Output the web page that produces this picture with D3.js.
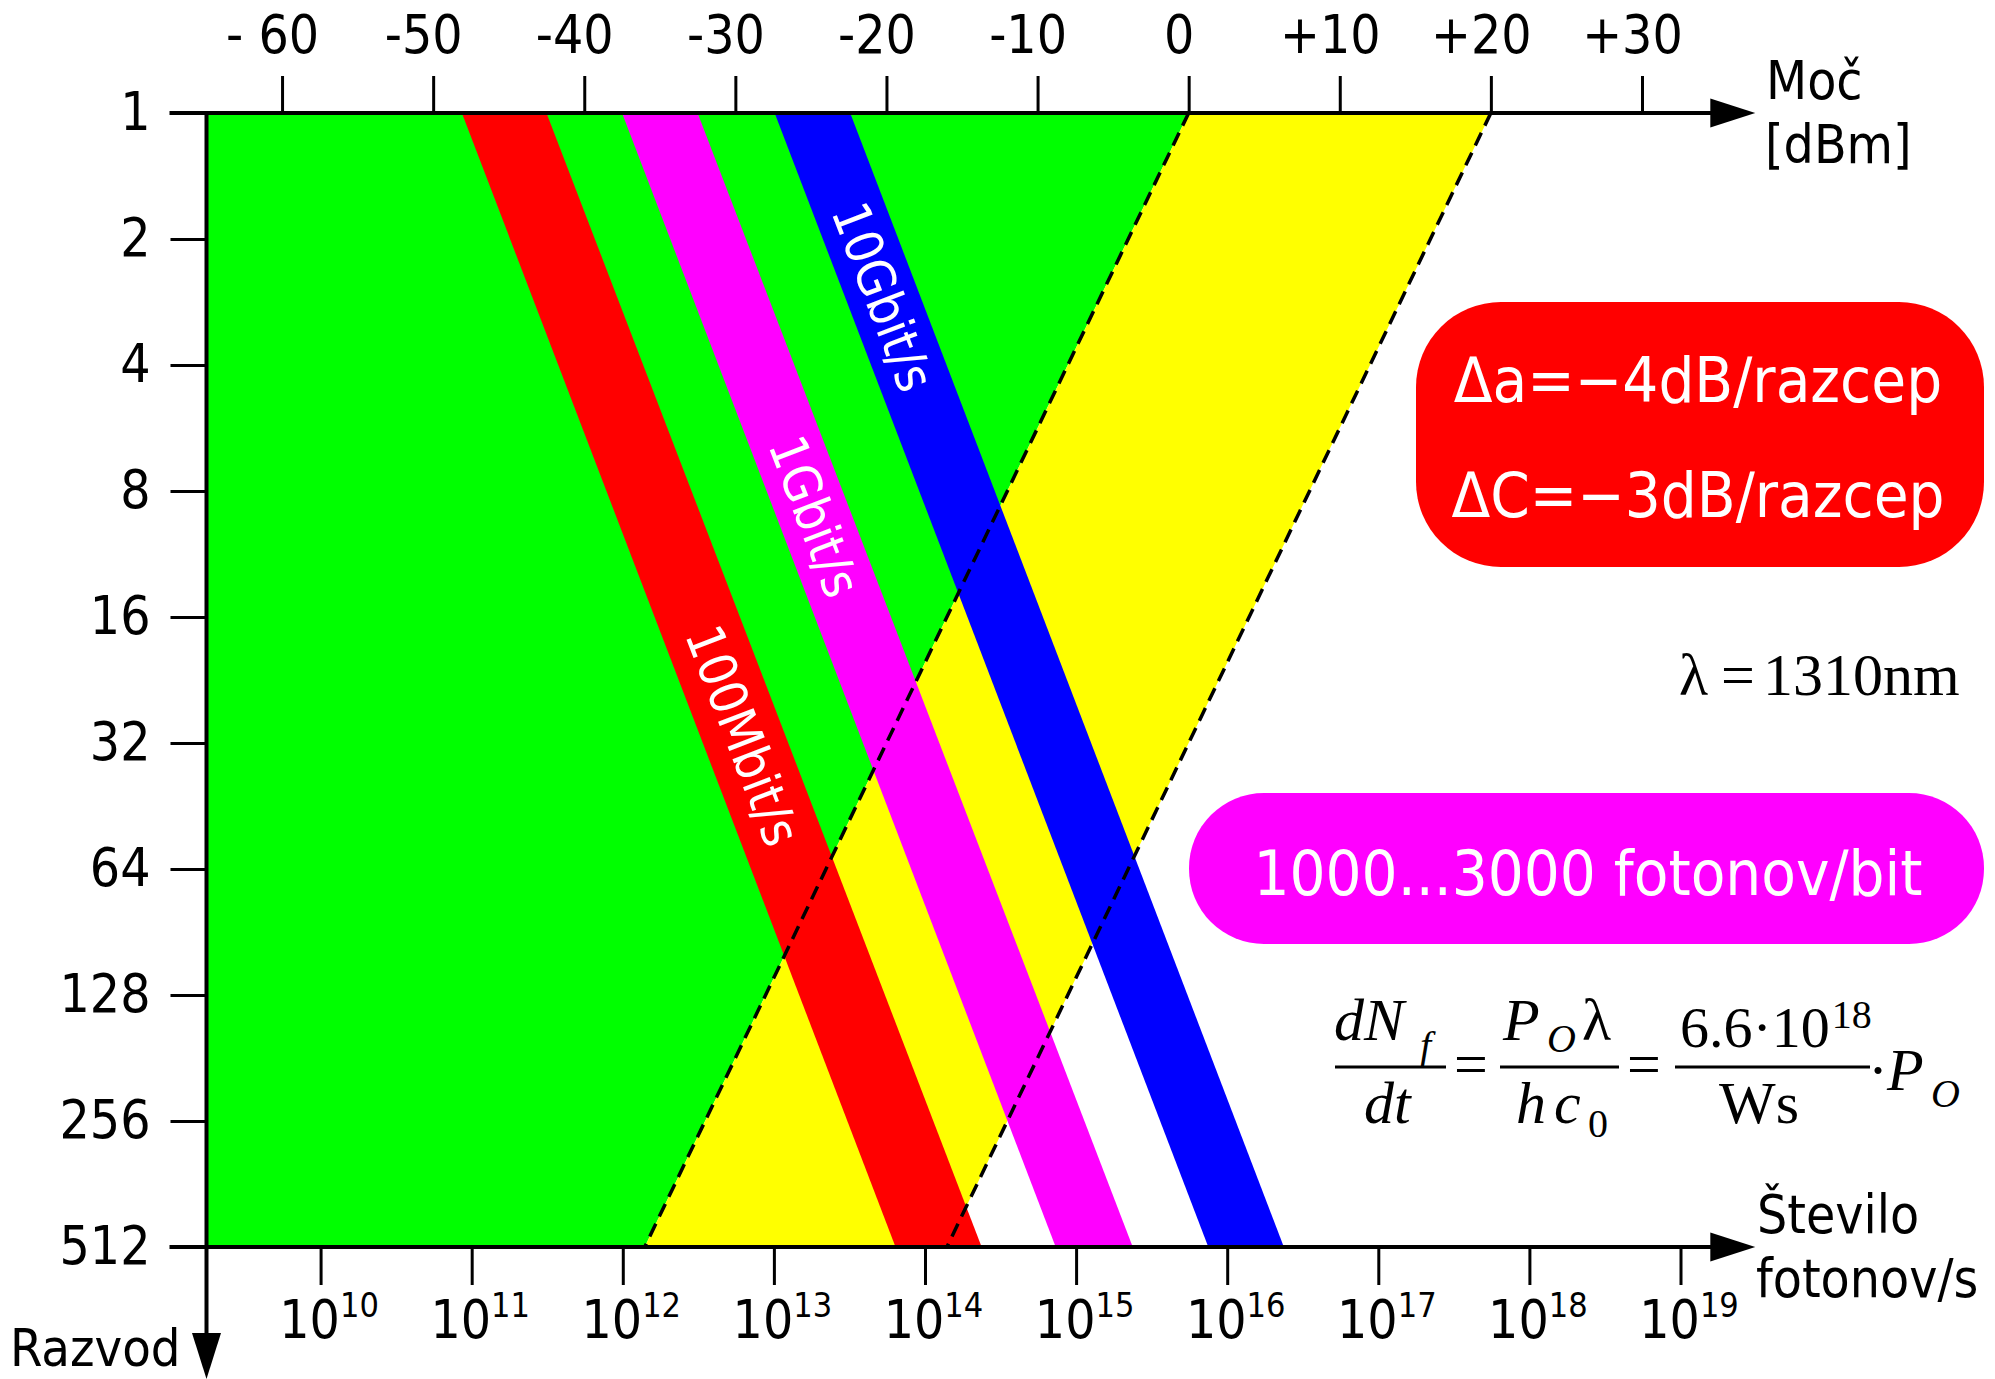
<!DOCTYPE html>
<html>
<head>
<meta charset="utf-8">
<script src="https://cdn.jsdelivr.net/npm/d3@7"></script>
<style>
  html, body { margin: 0; padding: 0; background: #fff; }
  svg { display: block; }
  .sans { font-family: "DejaVu Sans Condensed", "DejaVu Sans", sans-serif; font-stretch: condensed; }
  .serif { font-family: "Liberation Serif", "DejaVu Serif", serif; }
</style>
</head>
<body>
<svg id="chart" width="1995" height="1379"></svg>
<script>
// Received optical power axis (dBm) and its labels
const powerTicks = [-60, -50, -40, -30, -20, -10, 0, 10, 20, 30];
const powerTickLabels = ["- 60", "-50", "-40", "-30", "-20", "-10", "0", "+10", "+20", "+30"];

// Split ratio axis (number of splits, log2)
const splits = [1, 2, 4, 8, 16, 32, 64, 128, 256, 512];

// Photon-rate axis: decades 10^10 ... 10^19 photons per second
const photonExponents = [10, 11, 12, 13, 14, 15, 16, 17, 18, 19];

// Receiver sensitivity bands (1000...3000 photons/bit) per bit rate, in dBm,
// at a single split and at 512 splits
const rateNames = ["100Mbit/s", "1Gbit/s", "10Gbit/s"];
const rateColors = ["#ff0000", "#ff00ff", "#0000ff"];
const rateMinDbmAt1 = [-48.1, -37.5, -27.4];
const rateMaxDbmAt1 = [-42.5, -32.5, -22.4];
const rateMinDbmAt512 = [-19.4, -8.8, 1.3];
const rateMaxDbmAt512 = [-13.7, -3.7, 6.3];

// Power budget lines (transmitter 0 dBm and +20 dBm, -4 dB per split)
const budgetDbmAt1 = [0, 20];
const budgetDbmAt512 = [-36, -16];

// ---------------------------------------------------------------------------
const svg = d3.select("#chart");
svg.append("rect").attr("width", 1995).attr("height", 1379).attr("fill", "#fff");

const x = d3.scaleLinear().domain([-65, 37.5]).range([206.5, 1755.3]);
const y = d3.scaleLog().base(2).domain([1, 512]).range([113, 1247]);

// photons/s  <->  dBm offset used for the lower scale
const photonOffsetDb = 157.45;
const photonScale = d3.scaleLog()
  .domain([1e10, 1e19])
  .range([x(100 - photonOffsetDb), x(190 - photonOffsetDb)]);

const x0 = x.range()[0];
const yTop = y(1), yBot = y(512);

const poly = pts => pts.map(p => p.join(",")).join(" ");

// Region below the 0 dBm budget line (green) and between budget lines (yellow)
svg.append("polygon")
  .attr("points", poly([[x0, yTop], [x(budgetDbmAt1[0]), yTop], [x(budgetDbmAt512[0]), yBot], [x0, yBot]]))
  .attr("fill", "#00ff00");
svg.append("polygon")
  .attr("points", poly([[x(budgetDbmAt1[0]), yTop], [x(budgetDbmAt1[1]), yTop],
                        [x(budgetDbmAt512[1]), yBot], [x(budgetDbmAt512[0]), yBot]]))
  .attr("fill", "#ffff00");

// Sensitivity bands
const bands = rateNames.map((name, i) => ({
  name, color: rateColors[i],
  min1: rateMinDbmAt1[i], max1: rateMaxDbmAt1[i],
  min512: rateMinDbmAt512[i], max512: rateMaxDbmAt512[i]
}));

svg.append("g").selectAll("polygon").data(bands).join("polygon")
  .attr("points", d => poly([[x(d.min1), yTop], [x(d.max1), yTop], [x(d.max512), yBot], [x(d.min512), yBot]]))
  .attr("fill", d => d.color);

// Band labels, written along each band
const labelSplit = { "100Mbit/s": 30.7, "1Gbit/s": 9.2, "10Gbit/s": 2.75 };
svg.append("g").selectAll("text").data(bands).join("text")
  .attr("class", "sans")
  .attr("font-size", 52)
  .attr("fill", "#fff")
  .attr("text-anchor", "middle")
  .attr("dominant-baseline", "central")
  .attr("transform", d => {
    const t = Math.log2(labelSplit[d.name]) / 9;
    const c1 = (d.min1 + d.max1) / 2, c2 = (d.min512 + d.max512) / 2;
    const cx = x(c1 + (c2 - c1) * t);
    const cy = y(labelSplit[d.name]);
    const ang = Math.atan2(yBot - yTop, x(c2) - x(c1)) * 180 / Math.PI;
    return `translate(${cx},${cy}) rotate(${ang})`;
  })
  .text(d => d.name);

// Budget lines (dashed)
svg.append("g").selectAll("line").data(budgetDbmAt1).join("line")
  .attr("x1", d => x(d)).attr("y1", yTop)
  .attr("x2", (d, i) => x(budgetDbmAt512[i])).attr("y2", yBot)
  .attr("stroke", "#000").attr("stroke-width", 3.5).attr("stroke-dasharray", "14,8");

// ---------------------------------------------------------------------------
// Axes
const axisStyle = g => {
  g.select(".domain").remove();
  g.selectAll(".tick line").attr("stroke", "#000").attr("stroke-width", 3);
  g.selectAll(".tick text").attr("fill", "#000");
  g.attr("font-family", null).attr("font-size", 53).attr("class", "sans");
};

svg.append("g")
  .attr("transform", `translate(0,${yTop})`)
  .call(d3.axisTop(x).tickValues(powerTicks).tickSize(37).tickPadding(23)
    .tickFormat((d, i) => powerTickLabels[i]))
  .call(axisStyle)
  .call(g => g.selectAll(".tick text").attr("dx", -10));

svg.append("g")
  .attr("transform", `translate(${x0},0)`)
  .call(d3.axisLeft(y).tickValues(splits).tickSize(36).tickPadding(20).tickFormat(d3.format("d")))
  .call(axisStyle);

svg.append("g")
  .attr("transform", `translate(0,${yBot})`)
  .call(d3.axisBottom(photonScale).tickValues(photonExponents.map(e => Math.pow(10, e)))
    .tickSize(38).tickFormat(""))
  .call(axisStyle)
  .call(g => {
    g.selectAll(".tick text").remove();
    const t = g.selectAll(".tick").append("text")
      .attr("x", 8).attr("y", 91).attr("text-anchor", "middle").attr("fill", "#000");
    t.append("tspan").text("10");
    t.append("tspan").attr("font-size", 34).attr("dy", -21).text((d, i) => photonExponents[i]);
  });

// Axis lines with arrow heads
const axes = svg.append("g");
const xEnd = x.range()[1];
[yTop, yBot].forEach(yy => {
  axes.append("line").attr("x1", x0 - 37).attr("x2", xEnd - 40).attr("y1", yy).attr("y2", yy)
    .attr("stroke", "#000").attr("stroke-width", 4);
  axes.append("polygon")
    .attr("points", poly([[xEnd - 45, yy - 14.5], [xEnd, yy], [xEnd - 45, yy + 14.5]]))
    .attr("fill", "#000");
});
axes.append("line").attr("x1", x0).attr("x2", x0).attr("y1", yTop - 2).attr("y2", 1336)
  .attr("stroke", "#000").attr("stroke-width", 4);
axes.append("polygon")
  .attr("points", poly([[x0 - 14.5, 1333], [x0, 1379], [x0 + 14.5, 1333]]))
  .attr("fill", "#000");

// Axis titles
const titles = svg.append("g").attr("class", "sans").attr("font-size", 53).attr("fill", "#000");
titles.append("text").attr("x", 1766).attr("y", 99).text("Moč");
titles.append("text").attr("x", 1765).attr("y", 163).text("[dBm]");
titles.append("text").attr("x", 1757).attr("y", 1233).text("Število");
titles.append("text").attr("x", 1756).attr("y", 1297).text("fotonov/s");
titles.append("text").attr("x", 10).attr("y", 1366).attr("font-size", 52).text("Razvod");

// ---------------------------------------------------------------------------
// Annotations
const note = svg.append("g");
note.append("rect").attr("x", 1416).attr("y", 302).attr("width", 568).attr("height", 265)
  .attr("rx", 85).attr("ry", 85).attr("fill", "#ff0000");
note.append("text").attr("class", "sans").attr("font-size", 63).attr("fill", "#fff")
  .attr("text-anchor", "middle").attr("x", 1698).attr("y", 402).text("Δa=−4dB/razcep");
note.append("text").attr("class", "sans").attr("font-size", 63).attr("fill", "#fff")
  .attr("text-anchor", "middle").attr("x", 1698).attr("y", 517).text("ΔC=−3dB/razcep");

note.append("rect").attr("x", 1189).attr("y", 793).attr("width", 795).attr("height", 151)
  .attr("rx", 75).attr("ry", 75).attr("fill", "#ff00ff");
note.append("text").attr("class", "sans").attr("font-size", 63).attr("fill", "#fff")
  .attr("text-anchor", "middle").attr("x", 1588).attr("y", 895).text("1000...3000 fotonov/bit");

// Wavelength
const lam = svg.append("text").attr("class", "serif").attr("font-size", 60).attr("fill", "#000").attr("y", 695);
lam.append("tspan").attr("x", 1679).text("λ");
lam.append("tspan").attr("x", 1721).text("=");
lam.append("tspan").attr("x", 1763).text("1310nm");

// Photon-rate formula
const f = svg.append("g").attr("class", "serif").attr("fill", "#000");
const put = (tx, px, py, size, italic) => f.append("text").attr("x", px).attr("y", py)
  .attr("font-size", size).attr("font-style", italic ? "italic" : "normal").text(tx);
const bar = (xa, xb) => f.append("line").attr("x1", xa).attr("x2", xb).attr("y1", 1067).attr("y2", 1067)
  .attr("stroke", "#000").attr("stroke-width", 3);

put("dN", 1334, 1040, 60, true);
put("f", 1420, 1059, 40, true);
bar(1335, 1446);
put("dt", 1364, 1123, 60, true);
put("=", 1454, 1084, 60, false);
put("P", 1503, 1040, 60, true);
put("O", 1547, 1052, 40, true);
put("λ", 1582, 1040, 60, false);
bar(1500, 1619);
put("h", 1516, 1123, 60, true);
put("c", 1554, 1123, 60, true);
put("0", 1588, 1137, 40, false);
put("=", 1627, 1084, 60, false);
const num = put("6.6·10", 1680, 1047, 58, false);
num.append("tspan").attr("font-size", 40).attr("dy", -19).attr("dx", 2).text("18");
bar(1675, 1870);
put("Ws", 1719, 1123, 60, false);
put("·", 1868, 1090, 60, false);
put("P", 1887, 1090, 60, true);
put("O", 1931, 1107, 40, true);
</script>
</body>
</html>
